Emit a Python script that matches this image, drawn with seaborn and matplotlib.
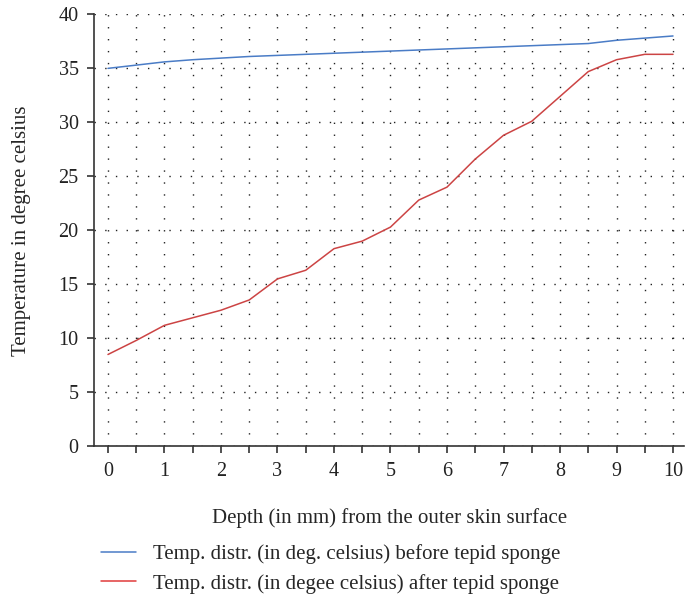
import pandas as pd
import matplotlib as mpl
import matplotlib.pyplot as plt
import numpy as np
import seaborn as sns

sns.set_style('white')
mpl.rcParams['font.family'] = ['Liberation Serif', 'DejaVu Serif']

depth = [0, 0.5, 1, 1.5, 2, 2.5, 3, 3.5, 4, 4.5, 5,
         5.5, 6, 6.5, 7, 7.5, 8, 8.5, 9, 9.5, 10]
before = [35.0, 35.3, 35.6, 35.8, 35.95, 36.1, 36.2, 36.3, 36.4, 36.5, 36.6,
          36.7, 36.8, 36.9, 37.0, 37.1, 37.2, 37.3, 37.6, 37.8, 38.0]
after = [8.5, 9.8, 11.2, 11.9, 12.6, 13.55, 15.5, 16.3, 18.3, 19.0, 20.3,
         22.8, 24.0, 26.6, 28.8, 30.1, 32.4, 34.7, 35.8, 36.3, 36.3]
label_before = "Temp. distr. (in deg. celsius) before tepid sponge"
label_after = "Temp. distr. (in degee celsius) after tepid sponge"

df = pd.DataFrame({
    "depth": depth * 2,
    "temp": before + after,
    "series": [label_before] * len(depth) + [label_after] * len(depth),
})

fig = plt.figure(figsize=(6.85, 5.99), dpi=100)
ax = fig.add_axes([0.137, 0.255, 0.862, 0.721])

sns.lineplot(data=df, x="depth", y="temp", hue="series",
             palette=["#4a7cc6", "#cc4444"], linewidth=1.1, ax=ax, legend=False)

ax.set_xlim(-0.25, 10.2)
ax.set_ylim(0, 40)
ax.set_xticks(np.arange(0, 11, 1))
ax.set_xticks(np.arange(0, 10.5, 0.5), minor=True)
ax.set_yticks(np.arange(0, 45, 5))

# sparse dotted grid
ax.grid(True, which='both', axis='x', color='#222222', linestyle=(0, (1, 7.6)), linewidth=1.0)
ax.grid(True, which='major', axis='y', color='#222222', linestyle=(0, (1, 6.7)), linewidth=1.0)

for s in ['top', 'right']:
    ax.spines[s].set_visible(False)
for s in ['left', 'bottom']:
    ax.spines[s].set_color('#333333')
    ax.spines[s].set_linewidth(1.2)

ax.tick_params(axis='both', which='both', direction='out', color='#333333',
               length=5, width=1.2, labelsize=14.5, colors='#222222')
ax.tick_params(axis='x', which='both', bottom=True, pad=6)
ax.tick_params(axis='y', left=True, pad=6)

ax.set_xlabel("Depth (in mm) from the outer skin surface", fontsize=15, labelpad=20)
ax.set_ylabel("Temperature in degree celsius", fontsize=15, labelpad=20)

handles = [mpl.lines.Line2D([], [], color="#4a7cc6", linewidth=1.1),
           mpl.lines.Line2D([], [], color="#e03a3a", linewidth=1.1)]
fig.legend(handles, [label_before, label_after], loc='upper left',
           bbox_to_anchor=(0.135, 0.105), frameon=False, fontsize=15,
           handlelength=1.7, handletextpad=0.8, labelspacing=0.45, borderaxespad=0)

plt.savefig("out.png", dpi=100)
